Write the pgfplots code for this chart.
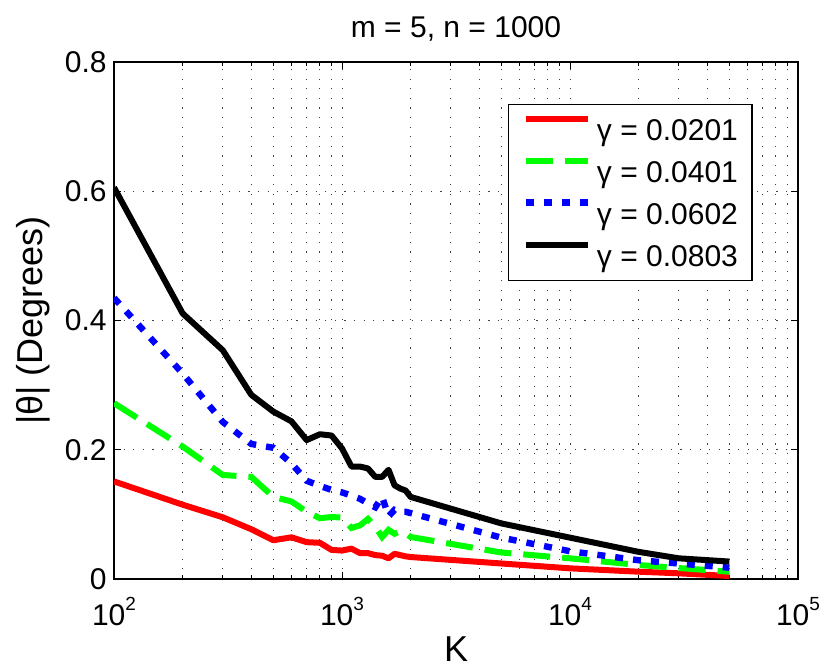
\documentclass[border=0pt]{standalone}
\usepackage{fontspec}
\setmainfont{Liberation Sans}
\usepackage{pgfplots}
\pgfplotsset{compat=1.18}
\newcommand{\tickfont}{\fontsize{15bp}{18bp}\selectfont}
\newcommand{\pw}[1]{10\raisebox{7.5bp}{\fontsize{9.5bp}{11bp}\selectfont #1}}
\pgfplotstableread{
x red green blue black
100 0.151 0.272 0.435 0.606
200 0.115 0.205 0.318 0.411
300 0.0955 0.161 0.243 0.354
400 0.077 0.158 0.209 0.285
500 0.060 0.127 0.203 0.259
600 0.0645 0.120 0.179 0.244
700 0.057 0.104 0.152 0.215
800 0.056 0.094 0.144 0.224
900 0.045 0.096 0.138 0.222
1000 0.044 0.095 0.134 0.202
1100 0.047 0.079 0.129 0.174
1200 0.040 0.083 0.124 0.174
1300 0.040 0.093 0.117 0.171
1400 0.037 0.081 0.111 0.158
1500 0.036 0.065 0.127 0.158
1600 0.032 0.076 0.097 0.169
1700 0.039 0.070 0.107 0.145
1800 0.037 0.074 0.104 0.140
1900 0.035 0.071 0.104 0.137
2000 0.034 0.065 0.102 0.127
5000 0.024 0.041 0.064 0.086
10000 0.0165 0.032 0.043 0.064
20000 0.0113 0.0217 0.029 0.042
30000 0.0088 0.017 0.024 0.032
50000 0.0046 0.0113 0.0175 0.027
}\datatable
\begin{document}
\begin{tikzpicture}
\begin{axis}[
  name=main,
  scale only axis, width=342bp, height=258.5bp,
  xmode=log, xmin=100, xmax=100000, ymin=0, ymax=0.8,
  xtick={100,1000,10000,100000},
  xticklabels={\pw{2},\pw{3},\pw{4},\pw{5}},
  minor xtick={200,300,400,500,600,700,800,900,2000,3000,4000,5000,6000,7000,8000,9000,20000,30000,40000,50000,60000,70000,80000,90000},
  ytick={0,0.2,0.4,0.6,0.8},
  yticklabels={0,0.2,0.4,0.6,0.8},
  grid=both,
  major grid style={black!75, line width=0.45bp, dash pattern=on 0.6bp off 4.2bp},
  minor grid style={black!75, line width=0.45bp, dash pattern=on 0.6bp off 4.2bp},
  tick align=inside,
  major tick length=3.5bp, minor tick length=2bp,
  tick style={black, line width=0.5bp},
  axis line style={line width=0.6bp},
  ticklabel style={font=\tickfont},
  yticklabel style={inner sep=0pt, xshift=-3.5bp},
  xticklabel style={anchor=base, inner sep=0pt, yshift=-23bp},
  xlabel={K},
  xlabel style={at={(axis description cs:0.5,-0.16)}, anchor=base, inner sep=0pt, font=\fontsize{18bp}{21bp}\selectfont},
  ylabel={|θ| (Degrees)},
  ylabel style={at={(axis description cs:-0.1038,0.5)}, anchor=base, inner sep=0pt, font=\fontsize{18bp}{21bp}\selectfont},
  legend style={at={(axis description cs:0.576,0.919)}, anchor=north west,
    font=\tickfont, draw=black, line width=0.6bp, fill=white,
    inner xsep=7bp, inner ysep=2bp, row sep=0pt, column sep=3bp,
    nodes={inner sep=0pt, text height=15.9bp, text depth=5.1bp}},
  legend cell align=left,
  legend image code/.code={\draw[#1] (0bp,5.4bp) -- (31bp,5.4bp);},
]
\addplot[red, line width=3bp, line join=round] table[x=x, y=red] {\datatable};
\addlegendentry{γ = 0.0201}
\addplot[green, line width=3bp, dash pattern=on 13.5bp off 6bp] table[x=x, y=green] {\datatable};
\addlegendentry{γ = 0.0401}
\addplot[blue, line width=3.2bp, dash pattern=on 4bp off 5bp] table[x=x, y=blue] {\datatable};
\addlegendentry{γ = 0.0602}
\addplot[black, line width=3bp, line join=round] table[x=x, y=black] {\datatable};
\addlegendentry{γ = 0.0803}
\end{axis}
\node[anchor=base, inner sep=0pt, font=\fontsize{15bp}{18bp}\selectfont] at ([yshift=12.15bp]main.north) {m = 5, n = 1000};
\pgfresetboundingbox
\useasboundingbox (-57bp,-46bp) rectangle (358bp,289.5bp);
\end{tikzpicture}
\end{document}
